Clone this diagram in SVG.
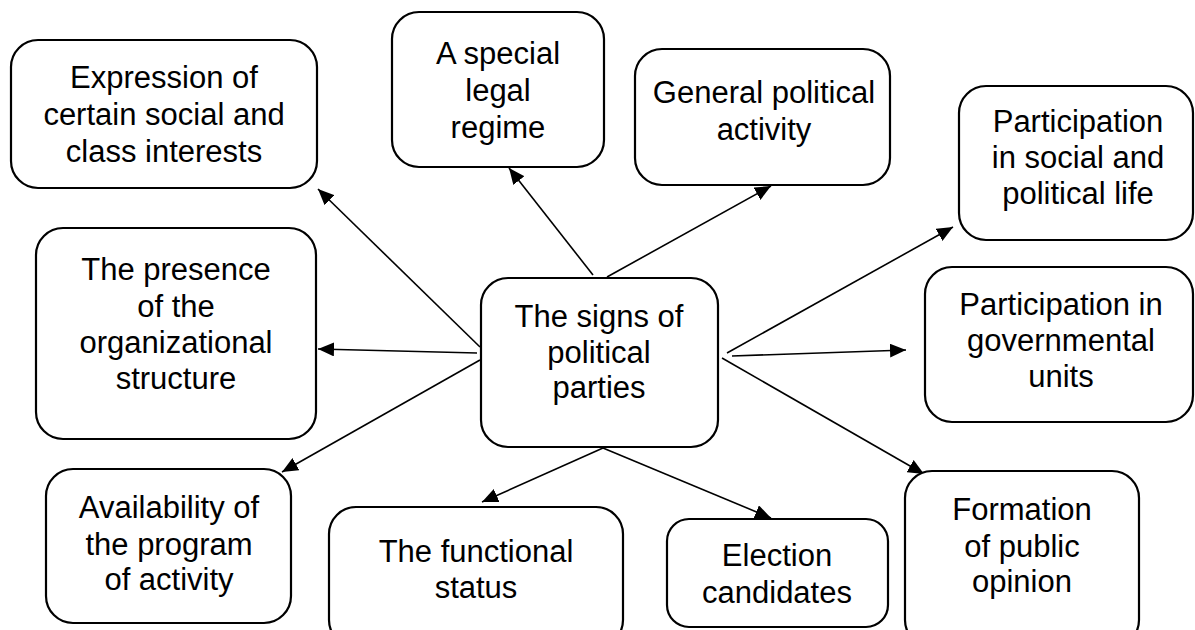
<svg xmlns="http://www.w3.org/2000/svg" width="1195" height="630" viewBox="0 0 1195 630">
<style>
.box{fill:#fff;stroke:#000;stroke-width:2.2}
.t{font-family:"Liberation Sans",Arial,sans-serif;font-size:31px;fill:#000;text-anchor:middle}
.c{stroke:#000;stroke-width:1.6;fill:none;marker-end:url(#ah)}
</style>
<defs>
<marker id="ah" markerUnits="userSpaceOnUse" markerWidth="18" markerHeight="14" refX="16" refY="7" orient="auto">
<path d="M0,0 L16,7 L0,14 Z" fill="#000"/>
</marker>
</defs>
<rect width="1195" height="630" fill="#fff"/>
<g id="connectors">
<line class="c" x1="480" y1="347" x2="318" y2="189"/>
<line class="c" x1="593" y1="275" x2="509" y2="168"/>
<line class="c" x1="607" y1="277" x2="771" y2="186"/>
<line class="c" x1="727" y1="353" x2="953" y2="227"/>
<line class="c" x1="732" y1="356" x2="906" y2="350"/>
<line class="c" x1="477" y1="353" x2="318" y2="349"/>
<line class="c" x1="480" y1="360" x2="282" y2="472"/>
<line class="c" x1="603" y1="448" x2="482" y2="502"/>
<line class="c" x1="603" y1="448" x2="771" y2="518"/>
<line class="c" x1="722" y1="358" x2="924" y2="474"/>
</g>
<g id="n-expression">
<rect class="box" x="11" y="40" width="306" height="148" rx="27"/>
<text class="t" x="164" y="88">Expression of</text>
<text class="t" x="164" y="125">certain social and</text>
<text class="t" x="164" y="162">class interests</text>
</g>
<g id="n-legal">
<rect class="box" x="392" y="12" width="212" height="155" rx="27"/>
<text class="t" x="498" y="64">A special</text>
<text class="t" x="498" y="101">legal</text>
<text class="t" x="498" y="138">regime</text>
</g>
<g id="n-general">
<rect class="box" x="635" y="49" width="255" height="136" rx="27"/>
<text class="t" x="764" y="103">General political</text>
<text class="t" x="764" y="140">activity</text>
</g>
<g id="n-social">
<rect class="box" x="959" y="86" width="234" height="154" rx="27"/>
<text class="t" x="1078" y="132">Participation</text>
<text class="t" x="1078" y="168">in social and</text>
<text class="t" x="1078" y="204">political life</text>
</g>
<g id="n-presence">
<rect class="box" x="36" y="228" width="280" height="211" rx="27"/>
<text class="t" x="176" y="280">The presence</text>
<text class="t" x="176" y="317">of the</text>
<text class="t" x="176" y="353">organizational</text>
<text class="t" x="176" y="389">structure</text>
</g>
<g id="n-center">
<rect class="box" x="481" y="278" width="237" height="169" rx="27"/>
<text class="t" x="599" y="327">The signs of</text>
<text class="t" x="599" y="363">political</text>
<text class="t" x="599" y="398">parties</text>
</g>
<g id="n-governmental">
<rect class="box" x="925" y="267" width="268" height="155" rx="27"/>
<text class="t" x="1061" y="315">Participation in</text>
<text class="t" x="1061" y="351">governmental</text>
<text class="t" x="1061" y="387">units</text>
</g>
<g id="n-availability">
<rect class="box" x="46" y="469" width="245" height="154" rx="27"/>
<text class="t" x="169" y="518">Availability of</text>
<text class="t" x="169" y="555">the program</text>
<text class="t" x="169" y="590">of activity</text>
</g>
<g id="n-functional">
<rect class="box" x="329" y="507" width="294" height="140" rx="27"/>
<text class="t" x="476" y="562">The functional</text>
<text class="t" x="476" y="598">status</text>
</g>
<g id="n-election">
<rect class="box" x="667" y="519" width="221" height="108" rx="22"/>
<text class="t" x="777" y="566">Election</text>
<text class="t" x="777" y="603">candidates</text>
</g>
<g id="n-formation">
<rect class="box" x="905" y="471" width="234" height="176" rx="27"/>
<text class="t" x="1022" y="520">Formation</text>
<text class="t" x="1022" y="557">of public</text>
<text class="t" x="1022" y="592">opinion</text>
</g>
</svg>
